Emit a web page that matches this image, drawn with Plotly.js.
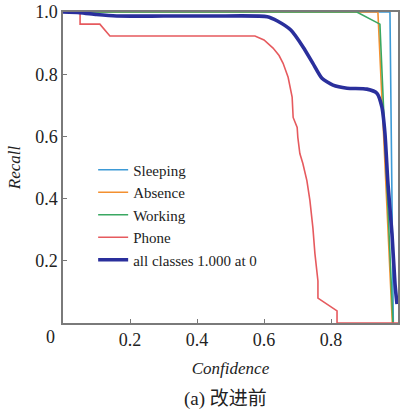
<!DOCTYPE html>
<html>
<head>
<meta charset="utf-8">
<script src="https://cdn.plot.ly/plotly-3.0.1.min.js"></script>
<style>html,body{margin:0;padding:0;background:#fff;}#chart{width:406px;height:410px;}</style>
</head>
<body>
<div id="chart"></div>
<script>
// Series (confidence, recall)
const sleepingX = [0, 0.976, 0.986];
const sleepingY = [1.0, 1.0, 0.0];
const absenceX = [0, 0.940, 0.983];
const absenceY = [1.0, 1.0, 0.0];
const workingX = [0, 0.877, 0.946, 0.985];
const workingY = [1.0, 1.0, 0.961, 0.0];
const phoneX = [0, 0.051, 0.051, 0.110, 0.140, 0.573, 0.600, 0.627, 0.645, 0.657, 0.672, 0.684, 0.687, 0.699, 0.701, 0.707, 0.716, 0.728, 0.737, 0.746, 0.752, 0.761, 0.761, 0.818, 0.818, 1.0];
const phoneY = [1.0, 1.0, 0.961, 0.961, 0.923, 0.923, 0.910, 0.884, 0.860, 0.835, 0.790, 0.726, 0.661, 0.629, 0.597, 0.545, 0.513, 0.458, 0.394, 0.306, 0.223, 0.135, 0.080, 0.039, 0.0, 0.0];
const allX = [0, 0.05, 0.10, 0.16, 0.30, 0.45, 0.61, 0.64, 0.68, 0.717, 0.746, 0.773, 0.806, 0.848, 0.907, 0.937, 0.952, 0.961, 0.970, 0.982, 0.991, 0.997];
const allY = [1.0, 0.998, 0.992, 0.987, 0.987, 0.987, 0.985, 0.971, 0.942, 0.887, 0.835, 0.787, 0.765, 0.755, 0.752, 0.739, 0.694, 0.610, 0.448, 0.287, 0.126, 0.061];
const seriesNames = ['Sleeping', 'Absence', 'Working', 'Phone', 'all classes 1.000 at 0'];
const tickVals = [0.2, 0.4, 0.6, 0.8, 1.0];
const tickText = ['0.2', '0.4', '0.6', '0.8', '1.0'];

const serif = 'Liberation Serif';
const thin = 1.6;
const traces = [
  {x: sleepingX, y: sleepingY, name: seriesNames[0], line: {color: '#3d9ad6', width: thin}},
  {x: absenceX, y: absenceY, name: seriesNames[1], line: {color: '#f39030', width: thin}},
  {x: workingX, y: workingY, name: seriesNames[2], line: {color: '#3aa862', width: thin}},
  {x: phoneX, y: phoneY, name: seriesNames[3], line: {color: '#e65a5e', width: thin}},
  {x: allX, y: allY, name: seriesNames[4], line: {color: '#2a2f9c', width: 3.6, shape: 'spline', smoothing: 0.6}}
].map(t => Object.assign({type: 'scatter', mode: 'lines', hoverinfo: 'skip'}, t));

const layout = {
  width: 406, height: 410,
  margin: {l: 63, r: 8, t: 12, b: 87},
  paper_bgcolor: '#fff', plot_bgcolor: '#fff',
  font: {family: serif, color: '#222', size: 18},
  showlegend: true,
  legend: {x: 0.09, y: 0.545, xanchor: 'left', yanchor: 'top', bgcolor: 'rgba(0,0,0,0)',
           font: {family: serif, size: 15, color: '#222'}, itemwidth: 30, tracegroupgap: 0},
  xaxis: {range: [0, 1.0], tickvals: tickVals, ticktext: tickText, ticks: 'inside', ticklen: 4,
          tickcolor: '#777', showgrid: false, zeroline: false, showline: true, mirror: true,
          linecolor: '#7a7a7a', linewidth: 1.6, tickfont: {size: 18, family: serif},
          title: {text: 'Confidence', font: {size: 17, family: serif, style: 'italic'}, standoff: 13}},
  yaxis: {range: [0, 1.0], tickvals: tickVals, ticktext: tickText, ticks: 'inside', ticklen: 4,
          tickcolor: '#777', showgrid: false, zeroline: false, showline: true, mirror: true,
          linecolor: '#7a7a7a', linewidth: 1.6, tickfont: {size: 18, family: serif},
          title: {text: 'Recall', font: {size: 17, family: serif, style: 'italic'}, standoff: 10}},
  annotations: [
    {text: '0', xref: 'paper', yref: 'paper', x: -0.036, y: -0.045, showarrow: false,
     xanchor: 'center', yanchor: 'middle', font: {size: 18, family: serif, color: '#222'}},
    {text: '(a) 改进前', xref: 'paper', yref: 'paper', x: 0.485, y: -0.245, showarrow: false,
     xanchor: 'center', yanchor: 'middle', font: {size: 19, family: 'Liberation Serif, Noto Sans CJK SC', color: '#222'}}
  ]
};
Plotly.newPlot('chart', traces, layout, {displayModeBar: false, staticPlot: true});
</script>
</body>
</html>
